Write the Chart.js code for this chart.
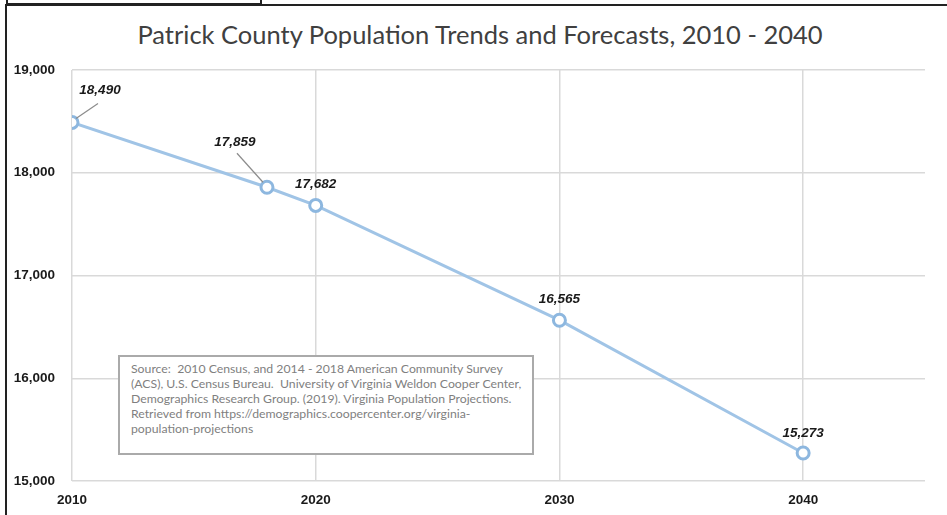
<!DOCTYPE html>
<html>
<head>
<meta charset="utf-8">
<script src="https://cdn.jsdelivr.net/npm/chart.js@4"></script>
<style>
  html, body { margin: 0; padding: 0; background: #fff; overflow: hidden; }
  #tab { position: absolute; left: 6px; top: -6px; width: 252px; height: 7px; border: 2px solid #222; }
  #frame { position: absolute; left: 5px; top: 4px; width: 1000px; height: 600px; border: 2px solid #222; }
  #chart { position: absolute; left: 0; top: 0; }
  #title {
    position: absolute; left: 0; top: 19px; width: 960px; text-align: center;
    font-family: Lato, sans-serif; font-size: 25.5px; line-height: 30px; color: #404040;
  }
  #source {
    position: absolute; left: 118px; top: 355px; width: 401px; height: 87px;
    border: 2px solid #aaa; padding: 4px 0 5px 11px; background: #fff;
    font-family: Lato, sans-serif; font-size: 12.25px; line-height: 15px;
    color: #7f7f7f; white-space: pre;
  }
</style>
</head>
<body>
<div id="tab"></div>
<div id="frame"></div>
<div id="title">Patrick County Population Trends and Forecasts, 2010 - 2040</div>
<canvas id="chart" width="947" height="515"></canvas>
<div id="source">Source:  2010 Census, and 2014 - 2018 American Community Survey
(ACS), U.S. Census Bureau.  University of Virginia Weldon Cooper Center,
Demographics Research Group. (2019). Virginia Population Projections.
Retrieved from https://demographics.coopercenter.org/virginia-
population-projections</div>
<script>
// population by year (census, ACS estimate, projections)
const years = [2010, 2018, 2020, 2030, 2040];
const population = [18490, 17859, 17682, 16565, 15273];
const yearTicks = [2010, 2020, 2030, 2040];

// where each value label sits relative to its point; leader = draw a connector
const labelOffsets = [
  { dx: 28, dy: -32, leader: [[4, -4], [26, -19]] },
  { dx: -32, dy: -45, leader: [[-4, -5], [-30, -34]] },
  { dx: 0, dy: -21 },
  { dx: 0, dy: -21 },
  { dx: 0, dy: -20 }
];

const valueLabels = {
  id: 'valueLabels',
  afterDatasetsDraw(chart) {
    const ctx = chart.ctx;
    const meta = chart.getDatasetMeta(0);
    ctx.save();
    meta.data.forEach((pt, i) => {
      const o = labelOffsets[i];
      if (o.leader) {
        ctx.strokeStyle = '#8c8c8c';
        ctx.lineWidth = 1.2;
        ctx.beginPath();
        ctx.moveTo(pt.x + o.leader[0][0], pt.y + o.leader[0][1]);
        ctx.lineTo(pt.x + o.leader[1][0], pt.y + o.leader[1][1]);
        ctx.stroke();
      }
      ctx.fillStyle = '#1a1a1a';
      ctx.font = 'italic bold 13.5px "Liberation Sans", Arial, sans-serif';
      ctx.textAlign = 'center';
      ctx.textBaseline = 'middle';
      ctx.fillText(population[i].toLocaleString('en-US'), pt.x + o.dx, pt.y + o.dy);
    });
    ctx.restore();
  }
};

const points = years.map((y, i) => ({ x: y, y: population[i] }));

new Chart(document.getElementById('chart'), {
  type: 'line',
  data: {
    datasets: [{
      data: points,
      borderColor: '#a0c4e6',
      borderWidth: 3,
      pointRadius: 6,
      pointBorderWidth: 3,
      pointBorderColor: '#8db7df',
      pointBackgroundColor: '#ffffff',
      tension: 0
    }]
  },
  options: {
    responsive: false,
    animation: false,
    layout: { padding: { left: 0, right: 22, top: 70, bottom: 0 } },
    plugins: {
      legend: { display: false },
      tooltip: { enabled: false }
    },
    scales: {
      x: {
        type: 'linear',
        min: 2010,
        max: 2045,
        afterFit(scale) { scale.height = 34; },
        afterBuildTicks(scale) { scale.ticks = yearTicks.map(v => ({ value: v })); },
        grid: { color: '#d9d9d9', lineWidth: 1.5, drawTicks: false },
        border: { display: false },
        ticks: {
          padding: 11,
          color: '#1a1a1a',
          font: { family: 'Liberation Sans', size: 13.5, weight: 'bold' },
          callback: v => String(v)
        }
      },
      y: {
        min: 15000,
        max: 19000,
        afterFit(scale) { scale.width = 72; },
        grid: { color: '#d9d9d9', lineWidth: 1.5, drawTicks: false },
        border: { display: false },
        ticks: {
          stepSize: 1000,
          padding: 17,
          color: '#1a1a1a',
          font: { family: 'Liberation Sans', size: 13.5, weight: 'bold' },
          callback: v => v.toLocaleString('en-US')
        }
      }
    }
  },
  plugins: [valueLabels]
});
</script>
</body>
</html>
